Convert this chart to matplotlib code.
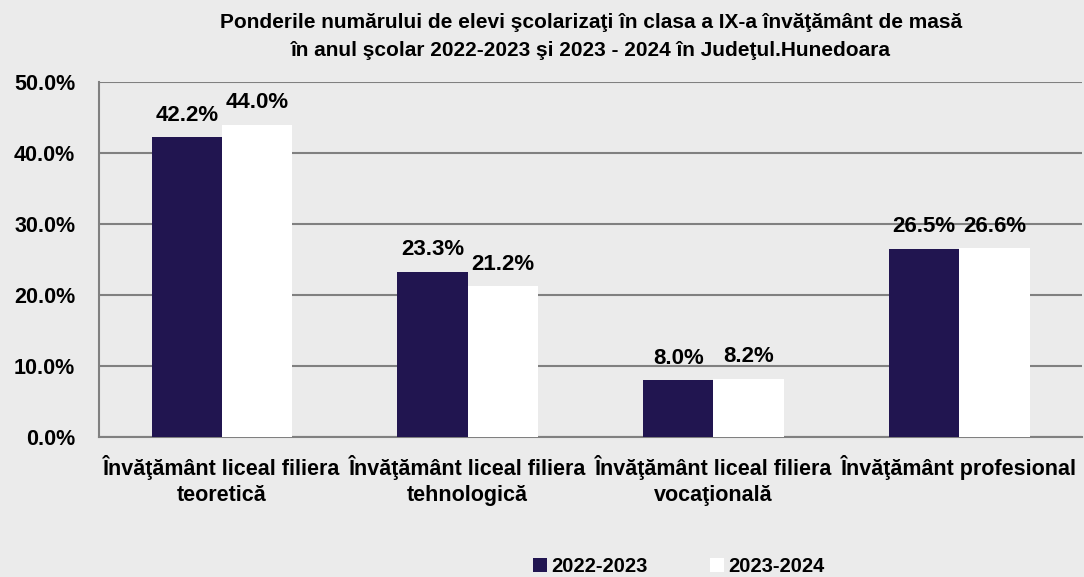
import numpy as np
import matplotlib.pyplot as plt
from matplotlib import font_manager

# Fuente estrecha en negrita, parecida a Arial Narrow
names = {f.name for f in font_manager.fontManager.ttflist}
narrow = 'Liberation Sans Narrow' if 'Liberation Sans Narrow' in names else 'Liberation Sans'
plt.rcParams['font.family'] = [narrow, 'DejaVu Sans']
plt.rcParams['font.weight'] = 'bold'

# Datos
categorii = ['Învăţământ liceal filiera\nteoretică',
             'Învăţământ liceal filiera\ntehnologică',
             'Învăţământ liceal filiera\nvocaţională',
             'Învăţământ profesional']
ani = ['2022-2023', '2023-2024']
val_2022 = [42.2, 23.3, 8.0, 26.5]
val_2023 = [44.0, 21.2, 8.2, 26.6]
y_ticks = [0, 10, 20, 30, 40, 50]

bg = '#ebebeb'
dark = '#211550'

fig = plt.figure(figsize=(10.84, 5.77), dpi=100, facecolor=bg)
ax = fig.add_axes([0.0913, 0.2426, 0.907, 0.6153], facecolor=bg)

x = np.arange(len(categorii))
w = 0.286
b1 = ax.bar(x - w / 2, val_2022, w, color=dark, label=ani[0], zorder=3)
b2 = ax.bar(x + w / 2, val_2023, w, color='white', label=ani[1], zorder=3)

# Etichete valori
for bars in (b1, b2):
    for r in bars:
        ax.text(r.get_x() + r.get_width() / 2, r.get_height() + 1.6,
                f'{r.get_height():.1f}%', ha='center', va='bottom',
                fontsize=16, fontweight='bold', zorder=4)

ax.set_xlim(-0.5, len(categorii) - 0.5)
ax.set_ylim(0, 50)
ax.set_yticks(y_ticks)
ax.set_yticklabels([f'{v:.1f}%' for v in y_ticks], fontsize=15.5, fontweight='bold')
ax.set_xticks(x)
ax.set_xticklabels(categorii, fontsize=15.5, fontweight='bold', linespacing=1.3)
ax.tick_params(axis='x', length=0, pad=13)
ax.tick_params(axis='y', length=0, pad=17)

ax.grid(axis='y', color='#808080', linewidth=1.5, zorder=0)
for s in ['top', 'right']:
    ax.spines[s].set_visible(False)
for s in ['left', 'bottom']:
    ax.spines[s].set_color('#808080')
    ax.spines[s].set_linewidth(1.5)

fig.suptitle('Ponderile numărului de elevi şcolarizaţi în clasa a IX-a învăţământ de masă\n'
             'în anul şcolar 2022-2023 şi 2023 - 2024 în Judeţul.Hunedoara',
             x=0.545, y=0.978, fontsize=15, fontweight='bold', linespacing=1.6)

leg = fig.legend(loc='lower center', bbox_to_anchor=(0.626, -0.03), ncol=2,
                 frameon=False, fontsize=14.5, handlelength=0.7, handleheight=0.7,
                 handletextpad=0.2, columnspacing=3.1)

fig.savefig('out.png', dpi=100, facecolor=bg)
